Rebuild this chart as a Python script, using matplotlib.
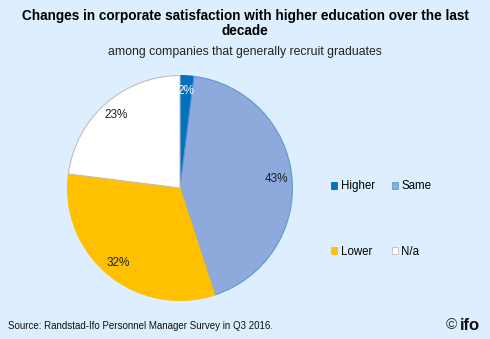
import matplotlib
matplotlib.use('Agg')
import matplotlib.pyplot as plt

plt.rcParams['font.family'] = ['Liberation Sans', 'DejaVu Sans']

# Survey shares, clockwise from the top
categories = ['Higher', 'Same', 'Lower', 'N/a']
shares = [2, 43, 32, 23]
colors = ['#0070C0', '#8EA9DB', '#FFC000', '#FFFFFF']
edges = ['#0070C0', '#5B9BD5', '#FFC000', '#BFBFBF']
label_colors = ['white', '#222222', '#222222', '#222222']

bg = '#DDEEFF'
fig = plt.figure(figsize=(4.9, 3.39), dpi=100, facecolor=bg)

fig.text(0.5, 1 - 16 / 339, 'Changes in corporate satisfaction with higher education over the last',
         ha='center', va='center', fontsize=9.8, fontweight='bold')
fig.text(0.5, 1 - 31 / 339, 'decade',
         ha='center', va='center', fontsize=9.8, fontweight='bold')
fig.text(0.5, 1 - 52 / 339, 'among companies that generally recruit graduates',
         ha='center', va='center', fontsize=8.8, color='#222222')

# Pie: center ~ (180, 188) px, radius ~113 px
r = 113
ax = fig.add_axes([(180 - r) / 490, 1 - (188 + r) / 339, 2 * r / 490, 2 * r / 339])
ax.set_facecolor(bg)
wedges, texts, autotexts = ax.pie(shares, colors=colors, startangle=90, counterclock=False,
                                  autopct='%d%%', pctdistance=0.86,
                                  wedgeprops=dict(linewidth=0.8),
                                  textprops=dict(fontsize=8.5))
for w, ec in zip(wedges, edges):
    w.set_edgecolor(ec)
for t, c in zip(autotexts, label_colors):
    t.set_color(c)
ax.set_xlim(-1.005, 1.005)
ax.set_ylim(-1.005, 1.005)
ax.axis('off')

# two columns, rows: Higher/Same then Lower/N/a (legend fills column-wise)
order = [0, 2, 1, 3]
lgd = fig.legend([wedges[i] for i in order], [categories[i] for i in order],
                 ncol=2, loc='center left',
                 bbox_to_anchor=(321 / 490, 1 - 219 / 339), frameon=False,
                 fontsize=8.3, labelspacing=4.6, columnspacing=1.5,
                 handlelength=0.5, handleheight=0.5, handletextpad=0.3)
for h in lgd.legend_handles:
    h.set_linewidth(0.6)

fig.text(8 / 490, 1 - 326 / 339, 'Source: Randstad-Ifo Personnel Manager Survey in Q3 2016.',
         ha='left', va='center', fontsize=7, color='#111111')
fig.text(457 / 490, 1 - 325 / 339, '©', ha='right', va='center', fontsize=11,
         color='#333333')
fig.text(460 / 490, 1 - 325 / 339, 'ifo', ha='left', va='center', fontsize=12,
         fontweight='bold', color='#111111')

fig.savefig('out.png', dpi=100, facecolor=bg)
